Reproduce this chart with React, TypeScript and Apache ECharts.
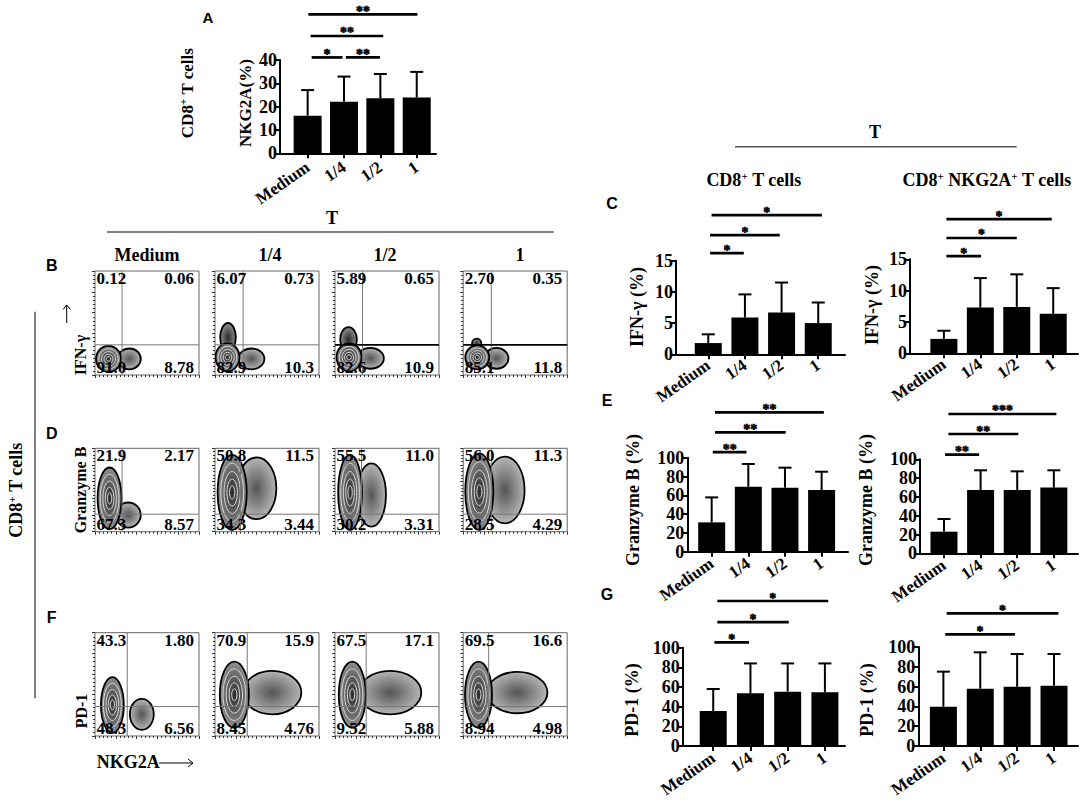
import React, { useEffect, useRef } from "react";
import * as echarts from "echarts";

const SERIF = "'Liberation Serif', 'Times New Roman', serif";
const SANS = "'Liberation Sans', Arial, sans-serif";

// ---------- categories ----------
const categories = ["Medium", "1/4", "1/2", "1"];
const categoryPositions = [0, 1, 2, 3];

// ---------- Panel A: NKG2A (%) ----------
const nkg2aMean = [16.1, 22.1, 23.6, 23.9];
const nkg2aUpper = [27.1, 32.9, 34.0, 34.9];
const nkg2aSig: [number, number, number, string][] = [
  [0.11, 0.96, 41.1, "*"],
  [1.05, 1.99, 41.1, "**"],
  [0.08, 2.08, 50.3, "**"],
  [0.02, 3.02, 59.6, "**"],
];

// ---------- Panel C: IFN-γ (%) ----------
const ifngCd8Mean = [1.8, 5.9, 6.7, 5.0];
const ifngCd8Upper = [3.2, 9.6, 11.5, 8.3];
const ifngCd8Sig: [number, number, number, string][] = [
  [0.05, 0.97, 16.2, "*"],
  [0.05, 1.95, 19.1, "*"],
  [0.09, 3.1, 22.3, "*"],
];
const ifngNkMean = [2.3, 7.3, 7.4, 6.3];
const ifngNkUpper = [3.6, 12.0, 12.6, 10.4];
const ifngNkSig: [number, number, number, string][] = [
  [0.07, 1.02, 15.5, "*"],
  [0.07, 2.0, 18.4, "*"],
  [0.07, 2.96, 21.4, "*"],
];

// ---------- Panel E: Granzyme B (%) ----------
const gzmbCd8Mean = [31.2, 69.1, 68.1, 65.6];
const gzmbCd8Upper = [57.8, 93.3, 89.4, 85.1];
const gzmbCd8Sig: [number, number, number, string][] = [
  [0.03, 0.95, 106, "**"],
  [0.09, 2.02, 127, "**"],
  [0.09, 3.06, 148.3, "**"],
];
const gzmbNkMean = [23.0, 67.4, 67.4, 69.9];
const gzmbNkUpper = [36.5, 88.3, 87.2, 88.3];
const gzmbNkSig: [number, number, number, string][] = [
  [0.03, 0.96, 104.9, "**"],
  [0.12, 2.03, 126.9, "**"],
  [0.12, 3.07, 148.2, "***"],
];

// ---------- Panel G: PD-1 (%) ----------
const pd1Cd8Mean = [35.6, 53.6, 55.3, 54.6];
const pd1Cd8Upper = [58.0, 84.0, 84.0, 84.0];
const pd1Cd8Sig: [number, number, number, string][] = [
  [0.03, 0.96, 105.5, "*"],
  [0.11, 2.03, 126, "*"],
  [0.11, 3.09, 147.5, "*"],
];
const pd1NkMean = [39.7, 57.9, 59.9, 60.9];
const pd1NkUpper = [75.1, 94.6, 92.9, 92.9];
const pd1NkSig: [number, number, number, string][] = [
  [0.05, 1.94, 112.8, "*"],
  [0.09, 3.12, 134, "*"],
];

// ---------- Flow plots (B, D, F) ----------
const flowColumns = ["Medium", "1/4", "1/2", "1"];
const ifngQuadrants = [
  ["0.12", "0.06", "91.0", "8.78"],
  ["6.07", "0.73", "82.9", "10.3"],
  ["5.89", "0.65", "82.6", "10.9"],
  ["2.70", "0.35", "85.1", "11.8"],
];
const gzmbQuadrants = [
  ["21.9", "2.17", "67.3", "8.57"],
  ["50.8", "11.5", "34.3", "3.44"],
  ["55.5", "11.0", "30.2", "3.31"],
  ["56.0", "11.3", "28.5", "4.29"],
];
const pd1Quadrants = [
  ["43.3", "1.80", "48.3", "6.56"],
  ["70.9", "15.9", "8.45", "4.76"],
  ["67.5", "17.1", "9.52", "5.88"],
  ["69.5", "16.6", "8.94", "4.98"],
];
// gate [x%, y%, dark]
const ifngGates = [[26, 29, 0], [27, 29, 0], [26.5, 29, 1], [27, 29, 1]];
const gzmbGates = [[26, 21, 0], [24.5, 21, 0], [25.5, 21, 0], [27, 21, 0]];
const pd1Gates = [[31, 28.5, 0], [31, 28.5, 0], [30, 28.5, 0], [24.5, 28.5, 0]];
// populations [cx, cy, rx, ry, kind] kind 0 = dense core with contours, 1 = diffuse, 2 = dense lobe
const ifngBlobs = [
  [[33, 15.5, 11, 10, 1], [13, 15.5, 12, 12.5, 0]],
  [[35, 15.5, 12.5, 10, 1], [12.5, 36, 7.5, 14, 2], [12, 17, 11.5, 13.5, 0]],
  [[34, 16, 13, 10, 1], [13, 34, 8, 12, 2], [13.5, 17, 12, 13.5, 0]],
  [[32, 16, 11.5, 10, 1], [13, 30, 4.5, 5, 2], [13.5, 17, 11.5, 11.5, 0]],
];
const gzmbBlobs = [
  [[32, 20, 12, 15, 1], [14, 40, 11.5, 37, 0]],
  [[40, 52, 19, 37, 1], [16.5, 47, 14, 45, 0]],
  [[35, 44, 14, 38, 1], [14.5, 47, 11.5, 45, 0]],
  [[40, 50, 19, 40, 1], [15.5, 48, 13.5, 46, 0]],
];
const pd1Blobs = [
  [[45, 21, 11.5, 15, 1], [16.7, 30, 11, 27, 0]],
  [[55, 42, 28, 21, 1], [18.6, 40, 14, 32, 0]],
  [[53, 42, 30, 21, 1], [16.6, 40, 13, 32, 0]],
  [[52, 42, 29, 20, 1], [14.7, 40, 13, 32, 0]],
];

// ---------- layout (pixels) ----------
const barPanels = [
  { mean: nkg2aMean, upper: nkg2aUpper, sig: nkg2aSig, L: 280, R: 436, top: 60, bottom: 153.3, xmin: -0.76, xmax: 3.53, ymax: 40, step: 10, barW: 28, margin: 12 },
  { mean: ifngCd8Mean, upper: ifngCd8Upper, sig: ifngCd8Sig, L: 676, R: 845, top: 260.7, bottom: 354.3, xmin: -0.88, xmax: 3.73, ymax: 15, step: 5, barW: 27, margin: 9 },
  { mean: ifngNkMean, upper: ifngNkUpper, sig: ifngNkSig, L: 910, R: 1078, top: 259.3, bottom: 353.3, xmin: -0.93, xmax: 3.68, ymax: 15, step: 5, barW: 27, margin: 9 },
  { mean: gzmbCd8Mean, upper: gzmbCd8Upper, sig: gzmbCd8Sig, L: 687.3, R: 848, top: 457.7, bottom: 551.7, xmin: -0.665, xmax: 3.72, ymax: 100, step: 20, barW: 27, margin: 10 },
  { mean: gzmbNkMean, upper: gzmbNkUpper, sig: gzmbNkSig, L: 920, R: 1078, top: 459.3, bottom: 553.3, xmin: -0.655, xmax: 3.66, ymax: 100, step: 20, barW: 27, margin: 10 },
  { mean: pd1Cd8Mean, upper: pd1Cd8Upper, sig: pd1Cd8Sig, L: 682.7, R: 845, top: 647.7, bottom: 746, xmin: -0.82, xmax: 3.54, ymax: 100, step: 20, barW: 27, margin: 10 },
  { mean: pd1NkMean, upper: pd1NkUpper, sig: pd1NkSig, L: 918.3, R: 1078, top: 647, bottom: 746, xmin: -0.68, xmax: 3.65, ymax: 100, step: 20, barW: 27, margin: 10 },
];

const flowRows = [
  { quads: ifngQuadrants, gates: ifngGates, blobs: ifngBlobs, top: 271, height: 104 },
  { quads: gzmbQuadrants, gates: gzmbGates, blobs: gzmbBlobs, top: 448.3, height: 83.4 },
  { quads: pd1Quadrants, gates: pd1Gates, blobs: pd1Blobs, top: 632.7, height: 103.3 },
];
const flowLeft = [95, 215, 335, 463.2];
const flowWidth = 104;

function boldText(text: string, size: number, family = SERIF) {
  return { text, fontSize: size, fontWeight: "bold", fontFamily: family, fill: "#000" };
}

// text for custom series
function seriesText(text: string, size: number, x: number, y: number, align: string, va: string, strokeW = 0) {
  return {
    type: "text",
    style: {
      text, x, y, fontSize: size, fontWeight: "bold", fontFamily: SERIF,
      fill: "#000", stroke: strokeW > 0 ? "#000" : "none", lineWidth: strokeW, align, verticalAlign: va,
    },
  };
}

function buildOption() {
  const grid: any[] = [];
  const xAxis: any[] = [];
  const yAxis: any[] = [];
  const series: any[] = [];

  barPanels.forEach((p, k) => {
    grid.push({ left: p.L, top: p.top, width: p.R - p.L, height: p.bottom - p.top, containLabel: false });
    xAxis.push({
      gridIndex: k, type: "value", min: p.xmin, max: p.xmax,
      axisLine: { show: true, onZero: false, lineStyle: { color: "#000", width: 2 } },
      axisTick: { show: true, customValues: categoryPositions, length: 5, lineStyle: { color: "#000", width: 2 } },
      axisLabel: {
        show: true, customValues: categoryPositions,
        formatter: (v: number) => categories[Math.round(v)] ?? "",
        rotate: 35, margin: p.margin, fontSize: 17, fontWeight: "bold", fontFamily: SERIF, color: "#000",
      },
      splitLine: { show: false },
    });
    yAxis.push({
      gridIndex: k, type: "value", min: 0, max: p.ymax, interval: p.step,
      axisLine: { show: true, onZero: false, lineStyle: { color: "#000", width: 2 } },
      axisTick: { show: true, length: 5, lineStyle: { color: "#000", width: 2 } },
      axisLabel: { fontSize: 18, fontWeight: "bold", fontFamily: SERIF, color: "#000", margin: 3 },
      splitLine: { show: false },
    });
    series.push({
      type: "bar", xAxisIndex: k, yAxisIndex: k, silent: true,
      data: p.mean.map((v, i) => [categoryPositions[i], v]),
      barWidth: p.barW, itemStyle: { color: "#000" },
    });
    series.push({
      type: "custom", xAxisIndex: k, yAxisIndex: k, silent: true, clip: false,
      itemStyle: { color: "#000" },
      data: p.mean.map((v, i) => [categoryPositions[i], v, p.upper[i]]),
      renderItem: (_params: any, api: any) => {
        const a = api.coord([api.value(0), api.value(1)]);
        const b = api.coord([api.value(0), api.value(2)]);
        return {
          type: "group",
          children: [
            { type: "line", shape: { x1: a[0], y1: a[1], x2: b[0], y2: b[1] }, style: { stroke: "#000", lineWidth: 2 } },
            { type: "line", shape: { x1: b[0] - 6.5, y1: b[1], x2: b[0] + 6.5, y2: b[1] }, style: { stroke: "#000", lineWidth: 2 } },
          ],
        };
      },
    });
    series.push({
      type: "custom", xAxisIndex: k, yAxisIndex: k, silent: true, clip: false,
      itemStyle: { color: "#000" },
      data: p.sig.map((s, i) => [s[0], s[2], s[1], i]),
      renderItem: (_params: any, api: any) => {
        const a = api.coord([api.value(0), api.value(1)]);
        const b = api.coord([api.value(2), api.value(1)]);
        const label = p.sig[api.value(3)][3];
        return {
          type: "group",
          children: [
            { type: "line", shape: { x1: a[0], y1: a[1], x2: b[0], y2: b[1] }, style: { stroke: "#000", lineWidth: 2.7 } },
            seriesText(label, 14, (a[0] + b[0]) / 2, a[1] + 4, "center", "bottom", 0.6),
          ],
        };
      },
    });
  });

  const base = barPanels.length;
  flowRows.forEach((row, r) => {
    flowColumns.forEach((_col, c) => {
      const g = base + r * 4 + c;
      grid.push({
        left: flowLeft[c], top: row.top, width: flowWidth, height: row.height,
        show: true, borderColor: "#666", borderWidth: 1, backgroundColor: "#fff", containLabel: false,
      });
      const tick = { show: true, length: 3, lineStyle: { color: "#333", width: 1 } };
      const minor = { show: true, splitNumber: 5, length: 2, lineStyle: { color: "#333", width: 1 } };
      xAxis.push({
        gridIndex: g, type: "value", min: 0, max: 100, interval: 20,
        axisLine: { show: false }, axisTick: tick, minorTick: minor,
        axisLabel: { show: false }, splitLine: { show: false },
      });
      yAxis.push({
        gridIndex: g, type: "value", min: 0, max: 100, interval: 20,
        axisLine: { show: false }, axisTick: tick, minorTick: minor,
        axisLabel: { show: false }, splitLine: { show: false },
      });
      // populations
      series.push({
        type: "custom", xAxisIndex: g, yAxisIndex: g, silent: true, clip: true,
        data: row.blobs[c],
        renderItem: (_params: any, api: any) => {
          const kind = api.value(4);
          const ctr = api.coord([api.value(0), api.value(1)]);
          const sz = api.size([api.value(2), api.value(3)]);
          const rx = sz[0];
          const ry = sz[1];
          const fill =
            kind === 1
              ? new echarts.graphic.RadialGradient(0.5, 0.5, 0.5, [
                  { offset: 0, color: "#555" },
                  { offset: 1, color: "#b5b5b5" },
                ])
              : new echarts.graphic.RadialGradient(0.5, 0.5, 0.5, [
                  { offset: 0, color: "#2a2a2a" },
                  { offset: 1, color: "#909090" },
                ]);
          const children: any[] = [
            { type: "ellipse", shape: { cx: ctr[0], cy: ctr[1], rx, ry }, style: { fill, stroke: "#000", lineWidth: 1.8 } },
          ];
          if (kind === 0) {
            [0.78, 0.56, 0.36, 0.18].forEach((f) => {
              children.push({
                type: "ellipse",
                shape: { cx: ctr[0], cy: ctr[1], rx: rx * f, ry: ry * f },
                style: { fill: "none", stroke: "#d8d8d8", lineWidth: 1 },
              });
            });
          }
          return { type: "group", children };
        },
      });
      // gates
      series.push({
        type: "custom", xAxisIndex: g, yAxisIndex: g, silent: true, clip: false,
        data: [row.gates[c]],
        renderItem: (_params: any, api: any) => {
          const gx = api.value(0);
          const gy = api.value(1);
          const dark = api.value(2) === 1;
          const v0 = api.coord([gx, 0]);
          const v1 = api.coord([gx, 100]);
          const h0 = api.coord([0, gy]);
          const h1 = api.coord([100, gy]);
          return {
            type: "group",
            children: [
              { type: "line", shape: { x1: v0[0], y1: v0[1], x2: v1[0], y2: v1[1] }, style: { stroke: "#777", lineWidth: 1 } },
              { type: "line", shape: { x1: h0[0], y1: h0[1], x2: h1[0], y2: h1[1] }, style: { stroke: dark ? "#000" : "#777", lineWidth: dark ? 1.6 : 1 } },
            ],
          };
        },
      });
      // quadrant percentages
      series.push({
        type: "custom", xAxisIndex: g, yAxisIndex: g, silent: true, clip: false,
        data: [[50, 50]],
        renderItem: (_params: any, api: any) => {
          const tl = api.coord([0, 100]);
          const br = api.coord([100, 0]);
          const q = row.quads[c];
          return {
            type: "group",
            children: [
              seriesText(q[0], 17, tl[0] + 1.5, tl[1] - 1, "left", "top"),
              seriesText(q[1], 17, br[0] - 5, tl[1] - 1, "right", "top"),
              seriesText(q[2], 17, tl[0] + 1.5, br[1] + 1, "left", "bottom"),
              seriesText(q[3], 17, br[0] - 5, br[1] + 1, "right", "bottom"),
            ],
          };
        },
      });
    });
  });

  const rot = Math.PI / 2;
  const supRich = (size: number) => ({
    a: { fontSize: size, fontWeight: "bold", fontFamily: SERIF, color: "#000", lineHeight: size + 2 },
    s: { fontSize: Math.round(size * 0.62), fontWeight: "bold", fontFamily: SERIF, color: "#000", verticalAlign: "top", lineHeight: Math.round(size * 0.62) },
  });
  const cText = (x: number, y: number, text: string, size: number, family = SERIF, rotation = 0) => ({
    type: "text", x, y, rotation, silent: true,
    style: { ...boldText(text, size, family), textAlign: "center", textVerticalAlign: "middle" },
  });
  const richText = (x: number, y: number, text: string, size: number, rotation = 0) => ({
    type: "text", x, y, rotation, silent: true,
    style: { text, rich: supRich(size), textAlign: "center", textVerticalAlign: "middle" },
  });

  const graphic: any[] = [
    // panel letters
    cText(208, 17, "A", 15, SANS),
    cText(51.7, 265, "B", 16, SANS),
    cText(612, 203, "C", 16, SANS),
    cText(51.7, 433, "D", 16, SANS),
    cText(607, 400, "E", 16, SANS),
    cText(51.7, 617, "F", 16, SANS),
    cText(607, 594, "G", 16, SANS),
    // panel A labels
    richText(187, 93, "{a|CD8}{s|+}{a| T cells}", 17, rot),
    cText(245, 103, "NKG2A(%)", 17, SERIF, rot),
    // flow header
    cText(332, 218, "T", 18),
    { type: "line", silent: true, shape: { x1: 107, y1: 232, x2: 553.6, y2: 232 }, style: { stroke: "#555", lineWidth: 1.5 } },
    cText(147, 255, flowColumns[0], 18),
    cText(270, 255, flowColumns[1], 18),
    cText(385, 255, flowColumns[2], 18),
    cText(520, 255, flowColumns[3], 18),
    // flow axis labels
    cText(80, 355, "IFN-γ", 16, SERIF, rot),
    { type: "line", silent: true, shape: { x1: 66.7, y1: 323, x2: 66.7, y2: 305 }, style: { stroke: "#000", lineWidth: 1 } },
    { type: "polyline", silent: true, shape: { points: [[63, 309.5], [66.7, 305], [70.4, 309.5]] }, style: { stroke: "#000", lineWidth: 1, fill: "none" } },
    cText(80.4, 490, "Granzyme B", 16, SERIF, rot),
    cText(81, 711, "PD-1", 16, SERIF, rot),
    { type: "text", x: 96.7, y: 762, silent: true, style: { ...boldText("NKG2A", 18), textAlign: "left", textVerticalAlign: "middle" } },
    { type: "line", silent: true, shape: { x1: 159, y1: 763, x2: 193, y2: 763 }, style: { stroke: "#000", lineWidth: 1 } },
    { type: "polyline", silent: true, shape: { points: [[188, 759], [193, 763], [188, 767]] }, style: { stroke: "#000", lineWidth: 1, fill: "none" } },
    { type: "line", silent: true, shape: { x1: 35, y1: 311.7, x2: 35, y2: 698.3 }, style: { stroke: "#555", lineWidth: 1.5 } },
    richText(16, 490, "{a|CD8}{s|+}{a| T cells}", 18, rot),
    // right header
    cText(875, 131.7, "T", 18),
    { type: "line", silent: true, shape: { x1: 735, y1: 146.7, x2: 1016.7, y2: 146.7 }, style: { stroke: "#555", lineWidth: 1.5 } },
    richText(754, 180, "{a|CD8}{s|+}{a| T cells}", 18),
    richText(987, 180, "{a|CD8}{s|+}{a| NKG2A}{s|+}{a| T cells}", 18),
    // bar y-axis names
    cText(637, 307, "IFN-γ (%)", 18, SERIF, rot),
    cText(872, 305, "IFN-γ (%)", 18, SERIF, rot),
    cText(633, 500, "Granzyme B (%)", 18, SERIF, rot),
    cText(866, 500, "Granzyme B (%)", 18, SERIF, rot),
    cText(632, 700, "PD-1 (%)", 18, SERIF, rot),
    cText(867, 700, "PD-1 (%)", 18, SERIF, rot),
  ];

  return { animation: false, backgroundColor: "#fff", grid, xAxis, yAxis, series, graphic };
}

export default function App() {
  const ref = useRef<HTMLDivElement>(null);
  useEffect(() => {
    if (!ref.current) return;
    const chart = echarts.init(ref.current, undefined, { renderer: "svg" });
    chart.setOption(buildOption() as any);
    return () => chart.dispose();
  }, []);
  return (
    <div
      ref={ref}
      style={{ position: "absolute", left: 0, top: 0, width: 1084, height: 804, background: "#fff" }}
    />
  );
}
